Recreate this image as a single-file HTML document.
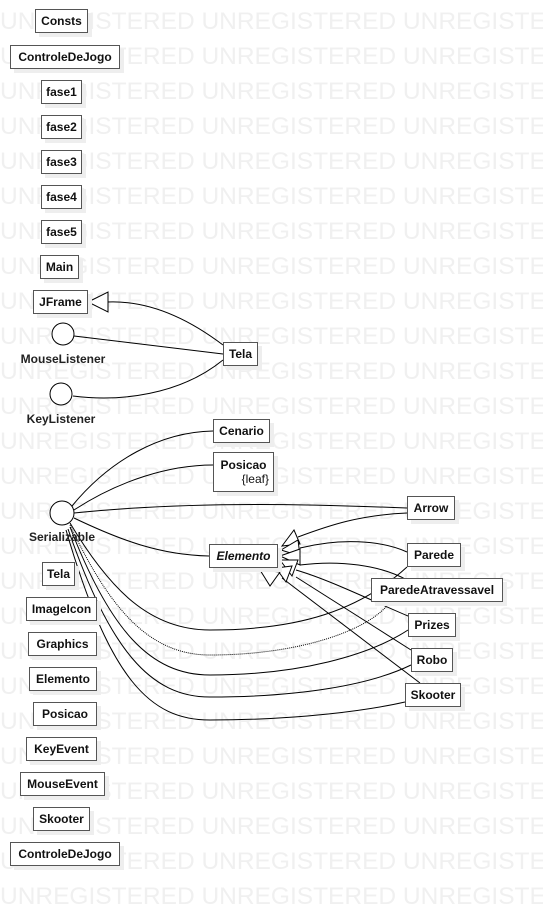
<!DOCTYPE html>
<html><head><meta charset="utf-8"><style>
body{margin:0;width:543px;height:905px;background:#fff;position:relative;overflow:hidden;font-family:"Liberation Sans",sans-serif;}
.wm{position:absolute;left:0;font-size:24.5px;color:#f0f0f0;white-space:nowrap;line-height:1;}
.b{position:absolute;border:1.5px solid #555;background:#fff;font-size:12px;font-weight:bold;color:#111;display:flex;align-items:center;justify-content:center;box-sizing:border-box;box-shadow:4px 4px 0 #eeeeee;}
.l{position:absolute;font-size:12px;font-weight:bold;color:#222;transform:translateX(-50%);white-space:nowrap;}
svg{position:absolute;left:0;top:0;}
</style></head><body>
<div id="wms"></div>
<script>
var s='';for(var i=0;i<26;i++){s+='<div class="wm" style="top:'+(10+i*35)+'px">UNREGISTERED UNREGISTERED UNREGISTERED</div>';}document.getElementById('wms').innerHTML=s;
</script>
<svg width="543" height="905" fill="none" stroke="#000" stroke-width="1">
<path d="M223 345 C190 320 150 300 107 302"/>
<polygon points="88,302 108,292 108,312" fill="#fff"/>
<path d="M74 336 L223 354"/>
<path d="M223 360 C180 395 120 402 73 396"/>
<circle cx="63" cy="334" r="11" fill="#fff"/>
<circle cx="61" cy="394" r="11" fill="#fff"/>
<path d="M72 506 C110 460 160 432 213 431"/>
<path d="M74 510 C120 480 170 465 213 465"/>
<path d="M74 513 C200 500 330 505 407 508"/>
<path d="M74 518 C120 540 160 555 209 556"/>
<path d="M70 523 C110 590 150 630 210 630 C300 630 360 610 407 567" />
<path d="M70 525 C110 610 150 655 210 655 C300 655 370 630 390 602" stroke-dasharray="1,1"/>
<path d="M70 527 C110 630 150 675 210 675 C300 675 370 655 408 630"/>
<path d="M68 529 C110 650 150 697 210 697 C300 697 370 685 411 665"/>
<path d="M66 530 C110 680 150 720 210 720 C300 720 370 710 405 702"/>
<circle cx="62" cy="513" r="12" fill="#fff"/>
<path d="M407 513 C360 515 330 525 298 537"/>
<path d="M407 552 C380 540 340 538 300 548"/>
<path d="M407 580 C380 565 340 560 300 565"/>
<path d="M408 616 C370 600 330 580 296 570"/>
<path d="M411 650 L296 577"/>
<path d="M420 683 L282 578"/>
<polygon points="282,546 294,530 300,544" fill="#fff"/>
<polygon points="281,550 298,540 300,556" fill="#fff"/>
<polygon points="280,556 300,549 300,565" fill="#fff"/>
<polygon points="280,560 298,560 292,576" fill="#fff"/>
<polygon points="276,568 292,566 286,582" fill="#fff"/>
<polygon points="260,570 280,572 270,586" fill="#fff"/>
</svg>
<div class="b" style="left:35px;top:9px;width:53px;height:24px">Consts</div>
<div class="b" style="left:10px;top:45px;width:110px;height:24px">ControleDeJogo</div>
<div class="b" style="left:41px;top:80px;width:41px;height:24px">fase1</div>
<div class="b" style="left:41px;top:115px;width:41px;height:24px">fase2</div>
<div class="b" style="left:41px;top:150px;width:41px;height:24px">fase3</div>
<div class="b" style="left:41px;top:185px;width:41px;height:24px">fase4</div>
<div class="b" style="left:41px;top:220px;width:41px;height:24px">fase5</div>
<div class="b" style="left:40px;top:255px;width:39px;height:24px">Main</div>
<div class="b" style="left:33px;top:290px;width:55px;height:24px">JFrame</div>
<div class="l" style="left:63px;top:352px">MouseListener</div>
<div class="b" style="left:223px;top:342px;width:35px;height:24px">Tela</div>
<div class="l" style="left:61px;top:412px">KeyListener</div>
<div class="b" style="left:213px;top:419px;width:57px;height:24px">Cenario</div>
<div class="b" style="left:213px;top:452px;width:61px;height:40px;flex-direction:column;line-height:14px"><span>Posicao</span><span style="align-self:flex-end;margin-right:4px;font-weight:normal">{leaf}</span></div>
<div class="l" style="left:62px;top:530px">Serializable</div>
<div class="b" style="left:407px;top:496px;width:48px;height:24px">Arrow</div>
<div class="b" style="left:209px;top:544px;width:69px;height:24px;font-style:italic">Elemento</div>
<div class="b" style="left:407px;top:543px;width:54px;height:24px">Parede</div>
<div class="b" style="left:371px;top:578px;width:132px;height:24px">ParedeAtravessavel</div>
<div class="b" style="left:408px;top:613px;width:48px;height:24px">Prizes</div>
<div class="b" style="left:411px;top:648px;width:42px;height:24px">Robo</div>
<div class="b" style="left:405px;top:683px;width:56px;height:24px">Skooter</div>
<div class="b" style="left:42px;top:562px;width:33px;height:24px">Tela</div>
<div class="b" style="left:26px;top:597px;width:71px;height:24px">ImageIcon</div>
<div class="b" style="left:28px;top:632px;width:69px;height:24px">Graphics</div>
<div class="b" style="left:29px;top:667px;width:68px;height:24px">Elemento</div>
<div class="b" style="left:33px;top:702px;width:64px;height:24px">Posicao</div>
<div class="b" style="left:26px;top:737px;width:71px;height:24px">KeyEvent</div>
<div class="b" style="left:20px;top:772px;width:85px;height:24px">MouseEvent</div>
<div class="b" style="left:33px;top:807px;width:57px;height:24px">Skooter</div>
<div class="b" style="left:10px;top:842px;width:110px;height:24px">ControleDeJogo</div>
</body></html>
